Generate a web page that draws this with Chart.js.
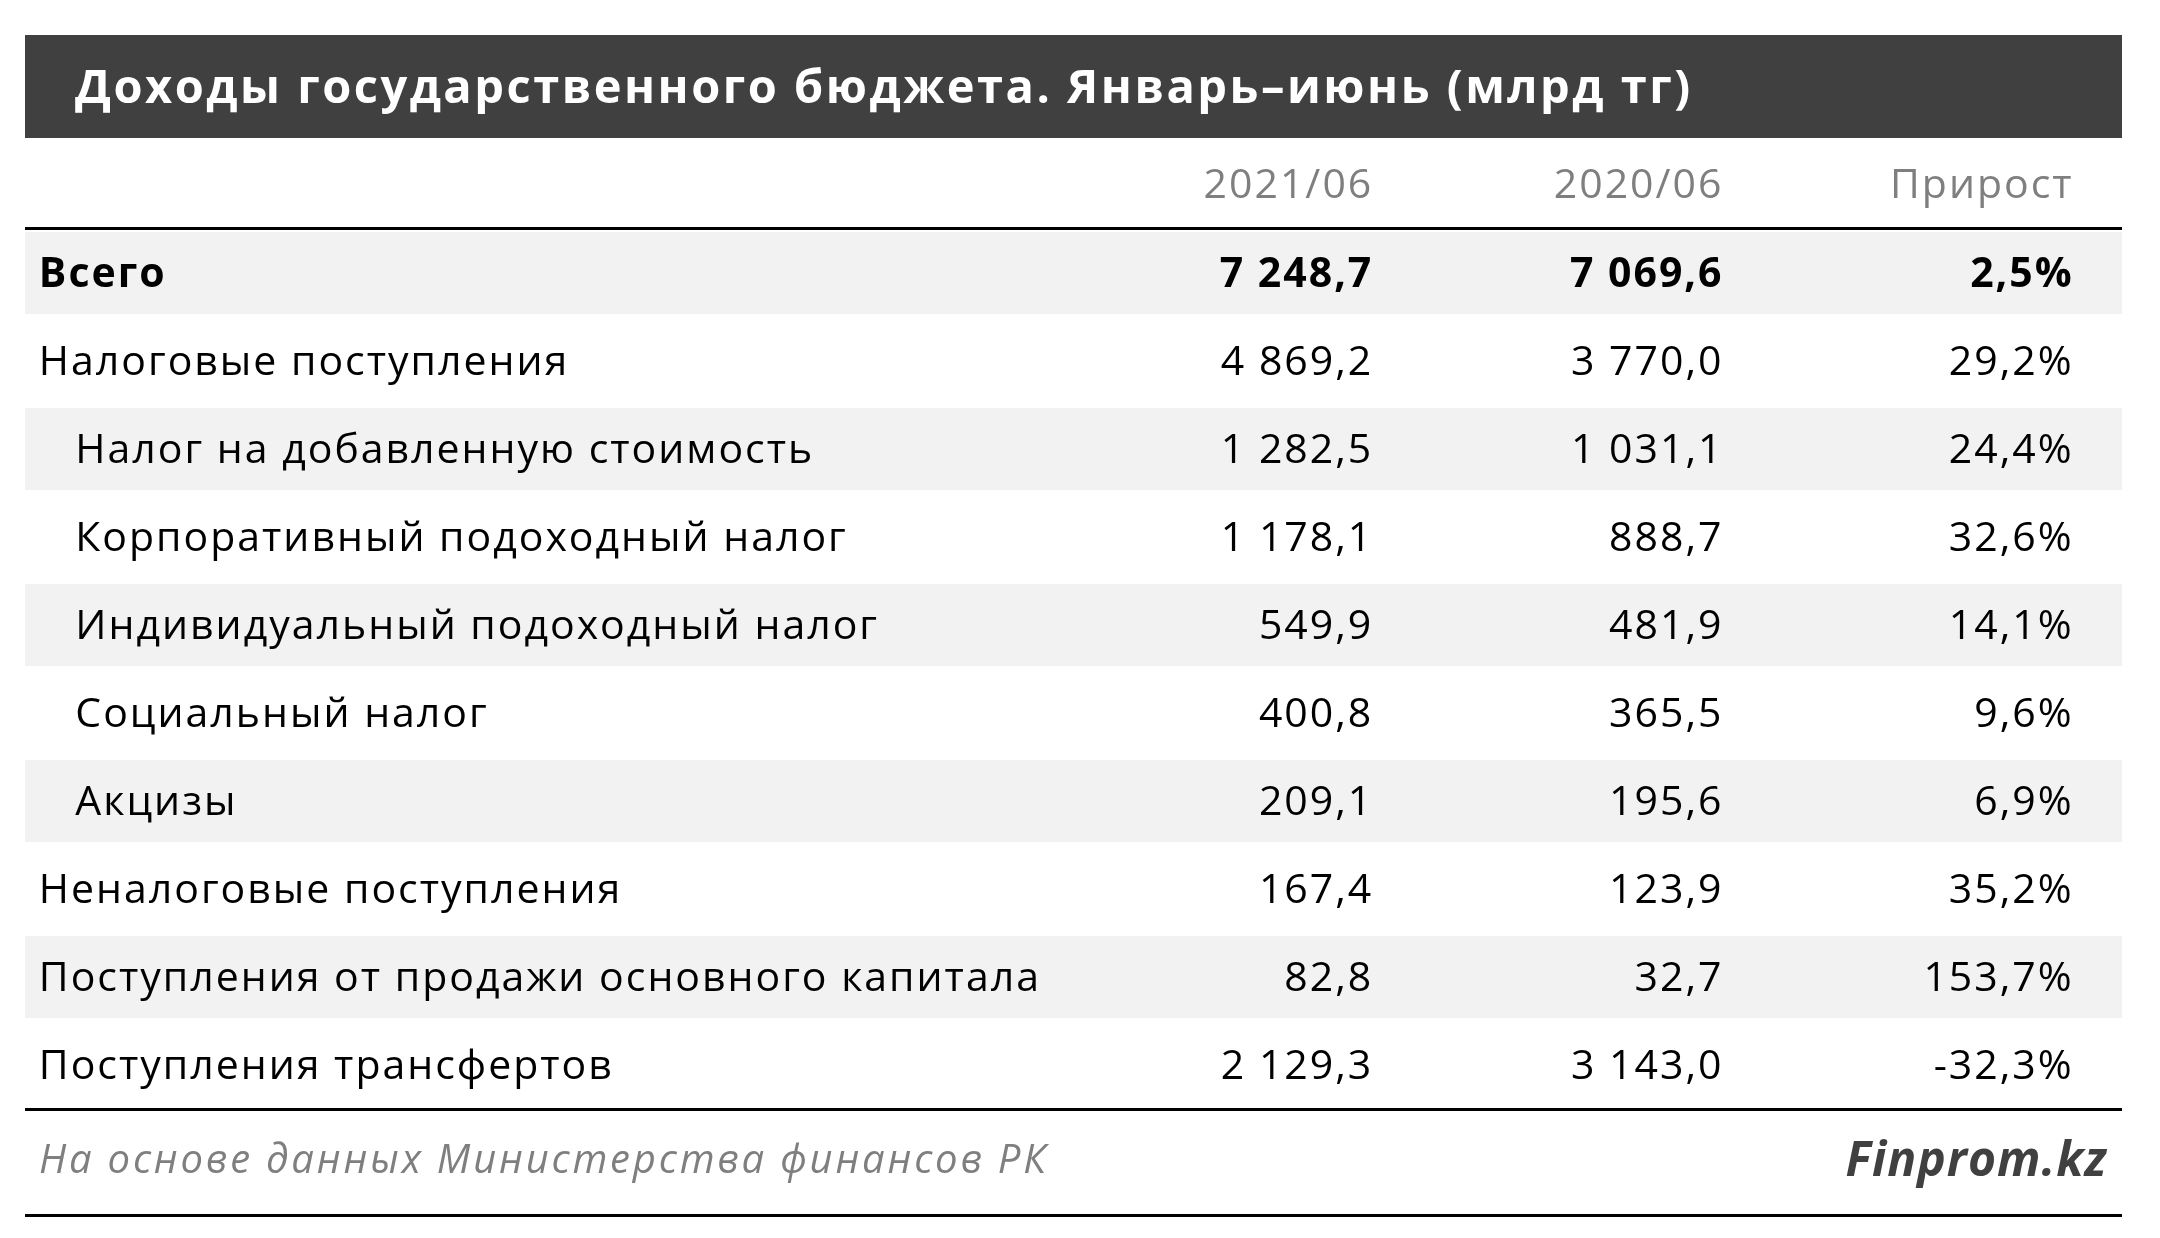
<!DOCTYPE html>
<html><head><meta charset="utf-8">
<script src="https://cdn.jsdelivr.net/npm/chart.js@4"></script>
<style>html,body{margin:0;background:#fff}#wrap{width:2160px;height:1238px}</style>
</head><body><div id="wrap"><canvas id="myChart"></canvas></div>
<script>
var title = 'Доходы государственного бюджета. Январь–июнь (млрд тг)';
var headers = ['2021/06', '2020/06', 'Прирост'];
var rows = ['Всего', 'Налоговые поступления', 'Налог на добавленную стоимость', 'Корпоративный подоходный налог',
  'Индивидуальный подоходный налог', 'Социальный налог', 'Акцизы', 'Неналоговые поступления',
  'Поступления от продажи основного капитала', 'Поступления трансфертов'];
var indent = [0, 0, 1, 1, 1, 1, 1, 0, 0, 0];
var v2021 = [7248.7, 4869.2, 1282.5, 1178.1, 549.9, 400.8, 209.1, 167.4, 82.8, 2129.3];
var v2020 = [7069.6, 3770.0, 1031.1, 888.7, 481.9, 365.5, 195.6, 123.9, 32.7, 3143.0];
var growth = [2.5, 29.2, 24.4, 32.6, 14.1, 9.6, 6.9, 35.2, 153.7, -32.3];
var source = 'На основе данных Министерства финансов РК';
var brand = 'Finprom.kz';

function fmt(v) {
  var s = v.toFixed(1).split('.');
  return s[0].replace(/\B(?=(\d{3})+(?!\d))/g, ' ') + ',' + s[1];
}
var FONT = '"Open Sans", sans-serif';
var colX = [0.642, 0.809, 0.976];

var tablePlugin = {
  id: 'table',
  afterDraw: function(chart) {
    var c = chart.ctx, xs = chart.scales.x, ys = chart.scales.y, a = chart.chartArea;
    var W = a.right - a.left;
    c.save();
    // title bar
    c.fillStyle = '#404040';
    c.fillRect(a.left, 35, W, 103);
    c.fillStyle = '#fff';
    c.font = 'bold 47px ' + FONT;
    c.letterSpacing = '2.5px';
    c.textBaseline = 'middle';
    c.textAlign = 'left';
    c.fillText(title, 75, 90);
    // headers
    c.letterSpacing = '2px';
    c.font = '41px ' + FONT;
    c.fillStyle = '#7f7f7f';
    c.textAlign = 'right';
    headers.forEach(function(h, i) { c.fillText(h, xs.getPixelForValue(colX[i]) + 2, 186); });
    var band = ys.getPixelForValue(1) - ys.getPixelForValue(0);
    rows.forEach(function(r, i) {
      var y = ys.getPixelForValue(i);
      if (i % 2 === 0) { c.fillStyle = '#f2f2f2'; c.fillRect(a.left, y - band / 2 + 3, W, band - 6); }
      c.fillStyle = '#000';
      c.font = (i === 0 ? 'bold ' : '') + '41px ' + FONT;
      c.textAlign = 'left';
      c.fillText(r, xs.getPixelForValue(indent[i] ? 0.024 : 0.0066), y + 2);
      c.textAlign = 'right';
      c.fillText(fmt(v2021[i]), xs.getPixelForValue(colX[0]) + 2, y + 2);
      c.fillText(fmt(v2020[i]), xs.getPixelForValue(colX[1]) + 2, y + 2);
      c.fillText(growth[i].toFixed(1).replace('.', ',') + '%', xs.getPixelForValue(colX[2]) + 2, y + 2);
    });
    // rules
    c.fillStyle = '#000';
    c.fillRect(a.left, a.top - 2, W, 3);
    c.fillRect(a.left, a.bottom - 1, W, 3);
    c.fillRect(a.left, 1214, W, 3);
    // footer
    c.textAlign = 'left';
    c.fillStyle = '#7f7f7f';
    c.font = 'italic 40px ' + FONT;
    c.letterSpacing = '2.8px';
    c.fillText(source, 39, 1162);
    c.textAlign = 'right';
    c.fillStyle = '#404040';
    c.letterSpacing = '1px';
    c.font = 'bold italic 48px ' + FONT;
    c.fillText(brand, xs.getPixelForValue(0.993), 1162);
    c.restore();
  }
};

new Chart(document.getElementById('myChart').getContext('2d'), {
  type: 'bar',
  data: { labels: rows, datasets: [{ data: v2021.map(function() { return 0; }), backgroundColor: 'rgba(0,0,0,0)' }] },
  options: {
    indexAxis: 'y', responsive: true, maintainAspectRatio: false, animation: false,
    layout: { padding: { top: 229, bottom: 129, left: 25, right: 38 } },
    plugins: { legend: { display: false }, tooltip: { enabled: false } },
    scales: {
      x: { type: 'linear', min: 0, max: 1, display: false },
      y: { type: 'category', display: false, offset: true }
    }
  },
  plugins: [tablePlugin]
});
</script></body></html>
